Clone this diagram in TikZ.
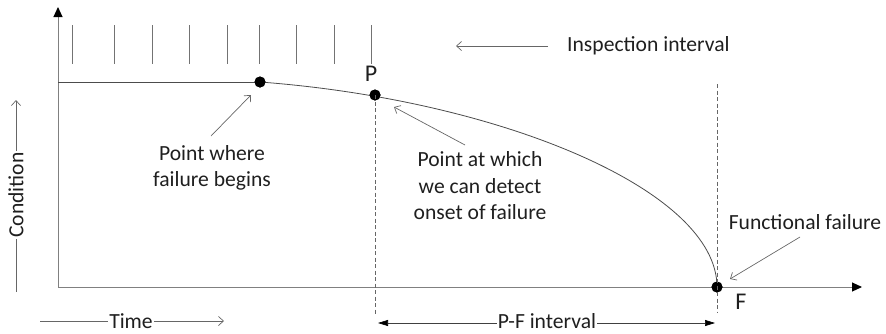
\documentclass[tikz,border=0pt]{standalone}
\usepackage{fontspec}
\setmainfont{Carlito}
\usetikzlibrary{arrows.meta}
\begin{document}
\begin{tikzpicture}[x=1pt,y=-1pt,
  lbl/.style={font=\fontsize{21.6}{26.5}\selectfont, text=black!88, align=center, inner sep=1pt},
  biglbl/.style={lbl, font=\fontsize{24}{28}\selectfont},
  dot/.style={circle, fill=black, inner sep=0pt, minimum size=11pt},
  axis/.style={draw=black!50, line width=1pt},
  thinline/.style={draw=black!60, line width=0.7pt},
  openarrow/.style={thinline, -{Straight Barb[length=5pt,width=9pt]}},
  tick/.style={draw=black!55, line width=0.8pt},
  dashline/.style={draw=black!60, line width=0.7pt, dash pattern=on 4pt off 2.5pt},
  filledarrow/.style={-{Triangle[length=10pt,width=9pt,color=black]}}
]
\useasboundingbox (0,0) rectangle (886,333);
% axes
\coordinate (O) at (58,287);
\coordinate (ytop) at (58,7);
\coordinate (xend) at (862,287);
\draw[axis, filledarrow] (O) -- (ytop);
\draw[axis, filledarrow] (O) -- (xend);
% ticks
\foreach \x [count=\i] in {72,114,152,189,227,259,296,334,371} {
  \coordinate (t\i a) at (\x,25);
  \coordinate (t\i b) at (\x,64);
  \draw[tick] (t\i a) -- (t\i b);
}
% curve
\node[dot] (B) at (260,82) {};
\node[dot] (P) at (375,95) {};
\node[dot] (F) at (717,287) {};
\coordinate (start) at (58,82);
\draw[draw=black!70, line width=0.8pt] (start) -- (B.center);
\draw[draw=black!70, line width=0.8pt] (B.center) .. controls (500,100) and (717,190) .. (F.center);
\node[dot] at (B) {};
\node[dot] at (P) {};
\node[dot] at (F) {};
% labels P and F
\node[biglbl] (Plbl) at (371,74) {P};
\node[biglbl] (Flbl) at (741,302) {F};
% dashed verticals
\coordinate (pd) at (375,315);
\coordinate (ft) at (717,84);
\coordinate (fd) at (717,313);
\draw[dashline] (P.center) -- (pd);
\draw[dashline] (ft) -- (fd);
% inspection interval
\node[lbl, anchor=west] (insp) at (566,46) {Inspection interval};
\coordinate (ia) at (548,46);
\coordinate (ib) at (456,46);
\draw[openarrow] (ia) -- (ib);
% point where failure begins
\node[lbl] (pw) at (212,168) {Point where\\failure begins};
\coordinate (pwa) at (211,136);
\coordinate (pwb) at (251,95);
\draw[openarrow] (pwa) -- (pwb);
% point at which we can detect
\node[lbl] (pd2) at (480,186) {Point at which\\we can detect\\onset of failure};
\coordinate (pda) at (465,145);
\coordinate (pdb) at (394,107);
\draw[openarrow] (pda) -- (pdb);
% functional failure
\node[lbl] (ff) at (805,222) {Functional failure};
\coordinate (ffa) at (800,237);
\coordinate (ffb) at (730,279);
\draw[openarrow] (ffa) -- (ffb);
% Condition
\node[lbl, rotate=90] (cond) at (16,195) {Condition};
\coordinate (cb) at (16,292);
\coordinate (ct) at (16,100);
\draw[thinline] (cb) -- (cond.west);
\draw[openarrow] (cond.east) -- (ct);
% Time
\node[lbl] (time) at (131,321) {Time};
\coordinate (tl) at (40,321);
\coordinate (tr) at (224,321);
\draw[thinline] (tl) -- (time.west);
\draw[openarrow] (time.east) -- (tr);
% P-F interval
\node[lbl] (pf) at (547,321) {P-F interval};
\coordinate (pfl) at (378,323);
\coordinate (pfr) at (715,323);
\draw[thinline, draw=black!75, -{Triangle[length=10pt,width=6pt,color=black]}] (pf.west |- pfl) -- (pfl);
\draw[thinline, draw=black!75, -{Triangle[length=10pt,width=6pt,color=black]}] (pf.east |- pfr) -- (pfr);
\end{tikzpicture}
\end{document}
